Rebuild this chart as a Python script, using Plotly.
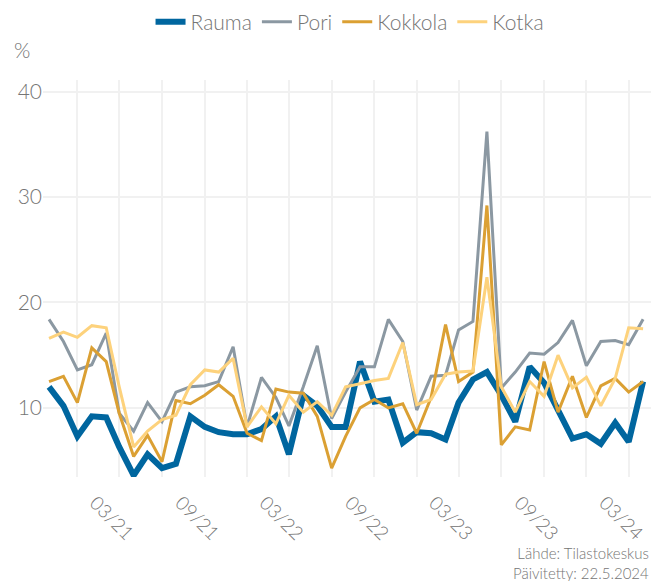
import plotly.graph_objects as go
import pandas as pd

months = pd.date_range("2020-10-01", "2024-04-01", freq="MS")

rauma = [12.0, 10.2, 7.3, 9.2, 9.1, 6.3, 3.6, 5.6, 4.3, 4.7, 9.2, 8.2, 7.7, 7.5, 7.5,
         8.0, 9.2, 5.6, 11.2, 10.2, 8.2, 8.2, 14.4, 10.6, 10.8, 6.7, 7.7, 7.6, 7.0,
         10.5, 12.7, 13.4, 11.2, 8.7, 13.9, 12.4, 9.8, 7.1, 7.5, 6.6, 8.6, 6.8, 12.5]
pori = [18.4, 16.3, 13.6, 14.1, 17.1, 9.5, 7.8, 10.5, 8.7, 11.5, 12.0, 12.1, 12.5,
        15.8, 8.2, 12.9, 11.0, 8.3, 12.0, 15.9, 9.0, 11.5, 13.9, 13.9, 18.4, 16.3,
        9.8, 13.0, 13.1, 17.4, 18.2, 36.2, 11.9, 13.4, 15.2, 15.1, 16.2, 18.3, 14.0,
        16.3, 16.4, 16.0, 18.4]
kokkola = [12.5, 13.0, 10.5, 15.7, 14.4, 9.5, 5.4, 7.4, 4.9, 10.7, 10.4, 11.2, 12.2,
           11.1, 7.6, 6.9, 11.8, 11.5, 11.4, 9.2, 4.3, 7.3, 10.0, 10.8, 10.0, 10.4,
           7.6, 11.0, 17.9, 12.5, 13.4, 29.2, 6.5, 8.2, 7.9, 14.4, 9.6, 13.0, 9.1,
           12.1, 12.8, 11.5, 12.5]
kotka = [16.6, 17.2, 16.7, 17.8, 17.6, 12.0, 6.3, 7.8, 8.9, 9.3, 12.2, 13.6, 13.4,
         14.7, 8.2, 10.1, 8.5, 11.2, 9.6, 10.6, 9.3, 12.0, 12.3, 12.6, 12.8, 16.2,
         10.3, 10.8, 13.2, 13.4, 13.5, 22.4, 12.0, 9.6, 12.5, 11.1, 15.0, 11.9, 12.9,
         10.2, 12.8, 17.6, 17.5]

tick_dates = ["2021-03-01", "2021-09-01", "2022-03-01", "2022-09-01",
              "2023-03-01", "2023-09-01", "2024-03-01"]
tick_labels = ["03/21", "09/21", "03/22", "09/22", "03/23", "09/23", "03/24"]
minor_dates = ["2020-12-01", "2021-06-01", "2021-12-01", "2022-06-01",
               "2022-12-01", "2023-06-01", "2023-12-01"]

series = [
    ("Rauma", rauma, "#00669f", 6),
    ("Pori", pori, "#8b98a2", 3),
    ("Kokkola", kokkola, "#dba033", 3),
    ("Kotka", kotka, "#fdd27c", 3),
]

FONT = "Lato"
GRAY = "#757575"
GRID = "#f1f1f1"

fig = go.Figure()
for name, vals, color, w in series:
    fig.add_trace(go.Scatter(x=months, y=vals, name=name, mode="lines",
                             line=dict(color=color, width=w)))

fig.update_layout(
    width=651, height=581,
    margin=dict(l=43, r=0, t=80, b=104, autoexpand=False),
    paper_bgcolor="white", plot_bgcolor="white",
    font=dict(family=FONT, color=GRAY, size=18, weight=300),
    showlegend=True,
    legend=dict(orientation="h", xref="paper", yref="container",
                x=0.505, xanchor="center", y=0.962, yanchor="middle",
                font=dict(size=21, color=GRAY, weight=300), itemwidth=30,
                traceorder="normal"),
    xaxis=dict(
        range=["2020-09-18", "2024-04-18"], automargin=False,
        tickmode="array", tickvals=tick_dates, ticktext=tick_labels,
        tickangle=45, showgrid=True, gridcolor=GRID, gridwidth=2,
        minor=dict(tickmode="array", tickvals=minor_dates, showgrid=True,
                   gridcolor=GRID, gridwidth=2),
        zeroline=False, showline=False, ticks="",
        tickfont=dict(size=19, color=GRAY, weight=300),
        ticklabelshift=-24, ticklabelstandoff=10,
    ),
    yaxis=dict(
        range=[3.45, 41.1], tickvals=[10, 20, 30, 40], automargin=False,
        showgrid=True, gridcolor=GRID, gridwidth=2,
        zeroline=False, showline=False, ticks="",
        tickfont=dict(size=21, color=GRAY, weight=300),
    ),
    annotations=[
        dict(text="%", xref="paper", yref="paper", x=-0.051, y=1.0756,
             xanchor="left", yanchor="middle", showarrow=False,
             font=dict(size=21, color=GRAY, weight=300)),
        dict(text="Lähde: Tilastokeskus<br>Päivitetty: 22.5.2024",
             xref="paper", yref="paper", x=1.0, y=-0.2166,
             xanchor="right", yanchor="middle", align="right", showarrow=False,
             font=dict(size=15, color=GRAY, weight=300)),
    ],
)

fig.write_html("out.html", config={"displayModeBar": False},
               post_script="document.body.style.margin='0';document.body.style.overflow='hidden';")
